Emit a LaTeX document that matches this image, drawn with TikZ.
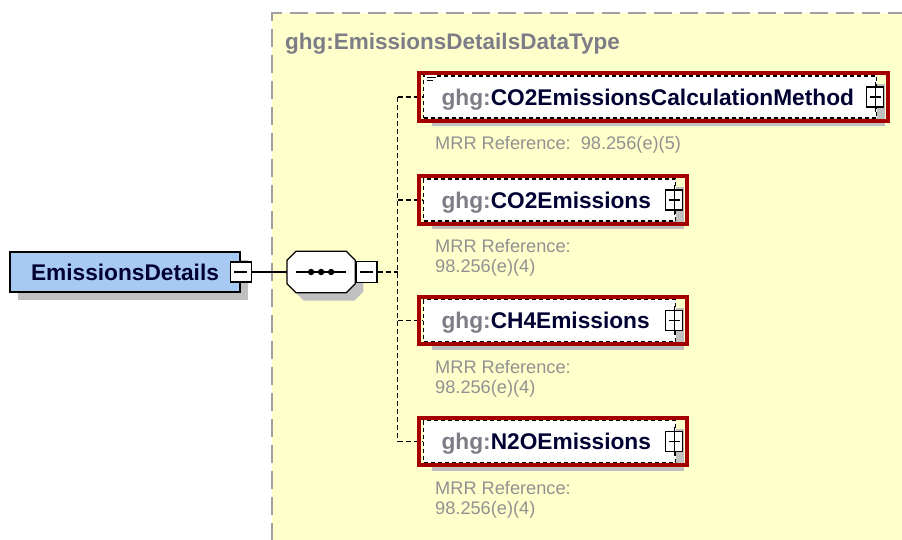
\documentclass[tikz,border=0pt]{standalone}
\usepackage{fontspec}
\setmainfont{Liberation Sans}
\usetikzlibrary{shadows, fit, calc, positioning}
\definecolor{typebg}{RGB}{255,255,204}
\definecolor{typeframe}{RGB}{160,160,160}
\definecolor{rootblue}{RGB}{168,202,242}
\definecolor{shadowgray}{RGB}{192,192,192}
\definecolor{redmark}{RGB}{165,0,0}
\definecolor{ghggray}{RGB}{125,125,135}
\definecolor{namecol}{RGB}{0,0,50}
\definecolor{mrrgray}{RGB}{145,145,145}
% octagon outline of the sequence compositor, shifted by #1
\newcommand{\seqoutline}[1]{([shift={(#1,#1+9)}]seq.north west) -- ([shift={(#1+9,#1)}]seq.north west)
    -- ([shift={(#1-9,#1)}]seq.north east) -- ([shift={(#1,#1+9)}]seq.north east)
    -- ([shift={(#1,#1-9)}]seq.south east) -- ([shift={(#1-9,#1)}]seq.south east)
    -- ([shift={(#1+9,#1)}]seq.south west) -- ([shift={(#1,#1-9)}]seq.south west) -- cycle}

\begin{document}
\begin{tikzpicture}[x=1pt, y=-1pt,
    shade box/.style={drop shadow={shadow xshift=8pt, shadow yshift=-8pt, fill=shadowgray, opacity=1}},
    rootbox/.style={draw, line width=1.5pt, fill=rootblue, minimum width=230pt, minimum height=40pt, inner sep=0pt,
        text=namecol, font=\bfseries\fontsize{22.7}{26}\selectfont, shade box},
    minusbox/.style={draw, line width=1.3pt, fill=white, minimum width=21pt, minimum height=20pt, inner sep=0pt,
        path picture={\draw[line width=1.3pt] ([xshift=4pt]path picture bounding box.west) -- ([xshift=-4pt]path picture bounding box.east);}},
    plusbox/.style={draw, line width=1.3pt, fill=white, minimum width=17pt, minimum height=20pt, inner sep=0pt,
        path picture={\draw[line width=1.3pt] ([xshift=3pt]path picture bounding box.west) -- ([xshift=-3pt]path picture bounding box.east);}},
    seqbox/.style={minimum width=68pt, minimum height=41pt, inner sep=0pt},
    elem/.style={draw, line width=1.2pt, dash pattern=on 4pt off 3pt, fill=white, minimum height=42pt, inner xsep=18pt,
        inner ysep=0pt, text depth=0pt, align=left, anchor=west, text=namecol, font=\bfseries\fontsize{22.7}{26}\selectfont, shade box},
    hilite/.style={draw=redmark, line width=4pt, inner xsep=4pt, inner ysep=2pt},
    mrr/.style={text=mrrgray, font=\fontsize{18.2}{20}\selectfont, align=left, inner sep=0pt, anchor=north west},
    link/.style={line width=1.5pt},
    conn/.style={line width=1.3pt, dash pattern=on 5pt off 3pt}]

    \useasboundingbox (0,0) rectangle (902,539);

    % complex type area
    \fill[typebg] (272,13) rectangle (906,543);
    \draw[typeframe, line width=2.5pt, dash pattern=on 18pt off 8pt] (906,13) -- (272,13) -- (272,543);
    \node[anchor=base west, inner sep=0pt, text=ghggray, font=\bfseries\fontsize{22.5}{26}\selectfont] (title) at (285,49) {ghg:EmissionsDetailsDataType};

    % root element and sequence
    \node[rootbox] (root) at (125,272) {EmissionsDetails};
    \node[minusbox] (rmin) at (root.east) {};
    \node[seqbox, right=35pt of rmin] (seq) {};
    \fill[shadowgray] \seqoutline{8};
    \filldraw[fill=white, line width=1.3pt] \seqoutline{0};
    \node[minusbox, minimum height=21pt, right=0pt of seq] (smin) {};
    \coordinate[right=20pt of smin] (join);
    \draw[link] (rmin) -- (seq);
    \draw[link] ([xshift=9pt]seq.west) -- ([xshift=-9pt]seq.east);
    \foreach \d in {-10,0,10}
        \fill ([xshift=\d pt]seq.center) circle (3.2pt);

    % connectors
    \draw[conn] (smin) -- (join);
    \draw[conn] (join |- 0,97) -- (join |- 0,441.5);

    % children
    \node[elem, text width=417pt] (e1) at (423,97) {\textcolor{ghggray}{ghg:}CO2EmissionsCalculationMethod};
    \node[elem, text width=216pt] (e2) at (423,200) {\textcolor{ghggray}{ghg:}CO2Emissions};
    \node[elem, text width=216pt] (e3) at (423,320.5) {\textcolor{ghggray}{ghg:}CH4Emissions};
    \node[elem, text width=216pt] (e4) at (423,441.5) {\textcolor{ghggray}{ghg:}N2OEmissions};
    \foreach \i in {1,...,4}
        \draw[conn] (e\i.west -| join) -- (e\i.west);

    % documentation icon
    \fill[white] ($(e1.north west)+(2,-3)$) rectangle ++(12,11);
    \foreach \dy/\len in {-1/9, 2/9, 5/6}
        \draw[line width=1pt] ($(e1.north west)+(4,\dy)$) -- ++(\len,0);

    % expand boxes and highlight frames
    \foreach \i in {1,...,4} {
        \node[plusbox] (p\i) at ([xshift=-2pt]e\i.east) {};
        \draw[line width=1.3pt] ([yshift=4pt]p\i.north) -- ([yshift=-4pt]p\i.south);
        \node[hilite, fit=(e\i)(p\i)] (r\i) {};
    }

    % annotations
    \node[mrr] (m1) at ($(e1.south west)+(12,18)$) {MRR Reference:\ \ 98.256(e)(5)};
    \node[mrr] (m2) at ($(e2.south west)+(12,18)$) {MRR Reference:\\98.256(e)(4)};
    \node[mrr] (m3) at ($(e3.south west)+(12,18)$) {MRR Reference:\\98.256(e)(4)};
    \node[mrr] (m4) at ($(e4.south west)+(12,18)$) {MRR Reference:\\98.256(e)(4)};
\end{tikzpicture}
\end{document}
